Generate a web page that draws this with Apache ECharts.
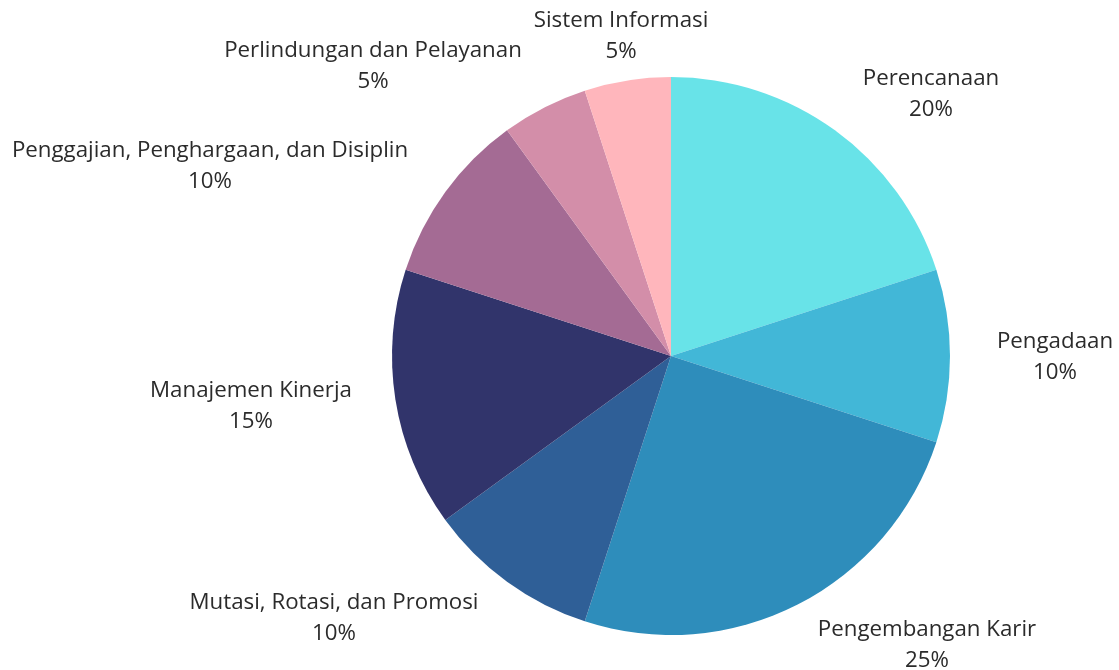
<!DOCTYPE html>
<html><head><meta charset="utf-8">
<script src="https://cdn.jsdelivr.net/npm/echarts@6/dist/echarts.min.js"></script>
<style>html,body{margin:0;padding:0;background:#fff}#c{width:1119px;height:670px}</style>
</head><body><div id="c"></div>
<script>
var categories = ["Perencanaan","Pengadaan","Pengembangan Karir","Mutasi, Rotasi, dan Promosi","Manajemen Kinerja","Penggajian, Penghargaan, dan Disiplin","Perlindungan dan Pelayanan","Sistem Informasi"];
var values = [20,10,25,10,15,10,5,5];
var colors = ["#68E3E8","#42B7D7","#2E8DBB","#2F5F97","#31346B","#A46B94","#D38EA9","#FFB6BC"];
// label block centres (layout only)
var labelCenters = [[931,94],[1055,357],[927,645],[334,618],[251,406],[210,166],[373,66],[621,36]];

var chart = echarts.init(document.getElementById('c'), null, {renderer:'canvas'});
chart.setOption({
  animation:false,
  series:[{
    type:'pie',
    center:[671,356],
    radius:[0,279],
    startAngle:90,
    clockwise:true,
    avoidLabelOverlap:false,
    label:{
      show:true,
      position:'outside',
      formatter:function(p){return '{a|'+p.name+'}\n{a|'+p.value+'%}';},
      rich:{a:{fontFamily:'Open Sans',fontSize:22.3,color:'#2b2b2b',lineHeight:31,align:'center'}}
    },
    labelLine:{show:false,length:20,length2:0},
    labelLayout:function(p){
      var c = labelCenters[p.dataIndex];
      return {x:c[0], y:c[1], align:'center', verticalAlign:'middle', hideOverlap:false, moveOverlap:null};
    },
    itemStyle:{borderWidth:0},
    emphasis:{disabled:true},
    data:categories.map(function(c,i){return {name:c,value:values[i],itemStyle:{color:colors[i]}};})
  }]
});
</script></body></html>
